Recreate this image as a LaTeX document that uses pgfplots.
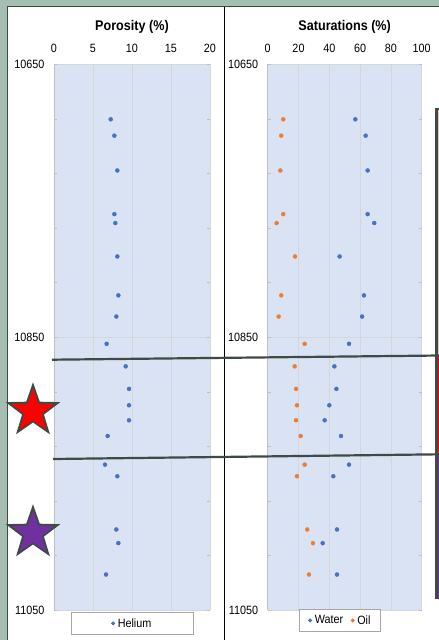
\documentclass[border=0pt]{standalone}
\usepackage{pgfplots}
\pgfplotsset{compat=1.18}
\usepackage{pgfplotstable}
\usepackage{fontspec}
\setmainfont{Liberation Sans}[FakeStretch=0.9]
\usetikzlibrary{shapes.geometric}
\definecolor{bandgreen}{HTML}{A4BFB1}
\definecolor{frameline}{HTML}{3E4A45}
\definecolor{bgblue}{HTML}{DAE3F3}
\definecolor{gridc}{HTML}{D5D5DA}
\definecolor{axgray}{HTML}{BFBFBF}
\definecolor{wblue}{HTML}{4472C4}
\definecolor{oorange}{HTML}{ED7D31}
\definecolor{starpurple}{HTML}{7030A0}
\definecolor{lgdgray}{HTML}{A6A6A6}
\definecolor{boxpink}{HTML}{F2C4C4}

\pgfplotstableread{
depth   helium water oil
10690.5 7.27   56.9  10.1
10702.5 7.74   63.6  8.8
10728.0 8.12   64.9  8.2
10760.0 7.74   64.9  10.1
10766.5 7.86   69.2  5.8
10791.0 8.12   46.7  17.7
10819.5 8.25   62.5  8.8
10835.0 7.99   61.3  7.1
10855.0 6.75   52.8  24.0
10871.5 9.19   43.3  17.5
10888.0 9.62   44.6  18.4
10900.0 9.62   40.0  19.0
10911.0 9.62   37.0  18.4
10922.5 6.88   47.6  21.4
10943.5 6.54   52.8  24.0
10952.0 8.12   42.6  19.0
10991.0 7.99   45.0  25.7
11001.0 8.25   35.7  29.4
11024.0 6.67   45.0  26.8
}\coredata

\pgfplotsset{
  track/.style={
    scale only axis, height=546pt,
    y dir=reverse, ymin=10650, ymax=11050,
    ytick={10650,10850,11050},
    minor ytick={10650,10690,...,11050},
    scaled y ticks=false,
    yticklabel style={/pgf/number format/.cd, fixed, precision=0, 1000 sep={}},
    /pgf/number format/assume math mode=true,
    tick label style={font=\fontsize{12}{14}\selectfont},
    xticklabel pos=upper,
    xticklabel shift=8pt,
    yticklabel shift=6pt,
    tick style={draw=axgray},
    xtick style={draw=none},
    tick align=inside,
    major tick length=3pt, minor tick length=3pt,
    axis line style={draw=none},
    axis background/.style={fill=bgblue},
    xmajorgrids, ymajorgrids,
    grid style={gridc, line width=0.8pt},
    title style={font=\fontsize{14}{16}\selectfont\bfseries, at={(0.5,1)}, anchor=base, yshift=28pt},
    extra description/.code={\draw[axgray, line width=0.8pt] (0,0) -- (0,1);},
    legend style={draw=lgdgray, line width=0.6pt, font=\fontsize{12}{14}\selectfont,
      anchor=north, inner ysep=4pt},
    legend cell align=left,
    legend image code/.code={\draw[##1, mark size=1.7pt] plot coordinates {(0cm,0cm)}; \path (-0.08cm,0cm) (0.08cm,0cm);},
  },
  dots/.style={only marks, mark=*, mark size=2pt},
}

\begin{document}
\begin{tikzpicture}
\path[use as bounding box] (0pt,0pt) rectangle (439pt,-640pt);
\fill[white] (0pt,0pt) rectangle (439pt,-640pt);
\fill[bandgreen] (0pt,0pt) rectangle (439pt,-6pt);
\fill[bandgreen] (0pt,0pt) rectangle (7pt,-640pt);
\draw[frameline, line width=1.2pt] (7.6pt,-640pt) -- (7.6pt,-6.6pt) -- (439pt,-6.6pt);
\draw[black, line width=1pt] (224pt,-7pt) -- (224pt,-640pt);

\begin{axis}[track, at={(54pt,-610pt)}, anchor=south west,
  width=156pt, xmin=0, xmax=20, xtick={0,5,...,20},
  title={Porosity (\%)},
  legend style={at={(0.5,0)}, yshift=-2pt, inner xsep=39.5pt}]
\addplot[dots, color=wblue] table[x=helium, y=depth] {\coredata};
\addlegendentry{Helium}
\end{axis}

\begin{axis}[track, at={(267.7pt,-610pt)}, anchor=south west,
  width=154pt, xmin=0, xmax=100, xtick={0,20,...,100},
  title={Saturations (\%)},
  legend columns=2,
  legend style={at={(0.47,0)}, yshift=1pt, inner xsep=8pt,
    /tikz/every even column/.append style={column sep=5pt}}]
\addplot[dots, color=wblue] table[x=water, y=depth] {\coredata};
\addlegendentry{Water}
\addplot[dots, color=oorange] table[x=oil, y=depth] {\coredata};
\addlegendentry{Oil}
\end{axis}

% zone box at right edge
\fill[boxpink] (436pt,-109pt) rectangle (442pt,-356pt);
\fill[red] (436pt,-356pt) rectangle (442pt,-455pt);
\fill[starpurple] (436pt,-455pt) rectangle (442pt,-598pt);
\draw[frameline, line width=2.4pt] (442pt,-109pt) -- (436.3pt,-109pt) -- (436.3pt,-598pt) -- (442pt,-598pt);

% zone boundary lines
\draw[frameline, line width=2.2pt] (52pt,-359.7pt) -- (440pt,-355.5pt);
\draw[frameline, line width=2.2pt] (53pt,-459pt) -- (440pt,-454.3pt);

% stars
\node[star, star points=5, star point ratio=2.5, minimum size=52pt, inner sep=0pt,
  fill=red, draw=frameline, line width=1.8pt] at (33pt,-411pt) {};
\node[star, star points=5, star point ratio=2.5, minimum size=52pt, inner sep=0pt,
  fill=starpurple, draw=frameline, line width=1.8pt] at (33pt,-533pt) {};
\end{tikzpicture}
\end{document}
